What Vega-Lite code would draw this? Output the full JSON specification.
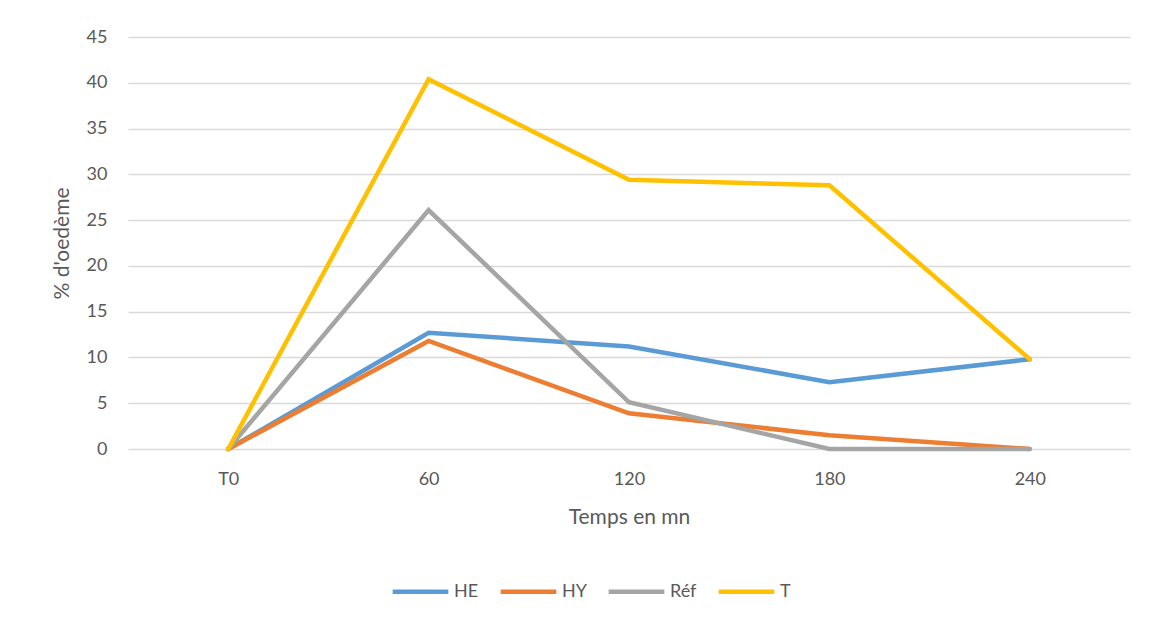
{
  "$schema": "https://vega.github.io/schema/vega-lite/v6.json",
  "width": 1002,
  "height": 412,
  "autosize": {"type": "none"},
  "padding": {"left": 128, "top": 37, "right": 23, "bottom": 171},
  "background": "white",
  "data": {
    "values": [
      {"temps": "T0", "serie": "HE", "oedeme": 0},
      {"temps": "60", "serie": "HE", "oedeme": 12.7},
      {"temps": "120", "serie": "HE", "oedeme": 11.2},
      {"temps": "180", "serie": "HE", "oedeme": 7.3},
      {"temps": "240", "serie": "HE", "oedeme": 9.8},
      {"temps": "T0", "serie": "HY", "oedeme": 0},
      {"temps": "60", "serie": "HY", "oedeme": 11.8},
      {"temps": "120", "serie": "HY", "oedeme": 3.9},
      {"temps": "180", "serie": "HY", "oedeme": 1.5},
      {"temps": "240", "serie": "HY", "oedeme": 0},
      {"temps": "T0", "serie": "Réf", "oedeme": 0},
      {"temps": "60", "serie": "Réf", "oedeme": 26.1},
      {"temps": "120", "serie": "Réf", "oedeme": 5.1},
      {"temps": "180", "serie": "Réf", "oedeme": 0},
      {"temps": "240", "serie": "Réf", "oedeme": 0},
      {"temps": "T0", "serie": "T", "oedeme": 0},
      {"temps": "60", "serie": "T", "oedeme": 40.4},
      {"temps": "120", "serie": "T", "oedeme": 29.4},
      {"temps": "180", "serie": "T", "oedeme": 28.8},
      {"temps": "240", "serie": "T", "oedeme": 9.8}
    ]
  },
  "mark": {"type": "line", "strokeWidth": 4.5, "strokeJoin": "miter", "strokeCap": "round"},
  "encoding": {
    "x": {
      "field": "temps",
      "type": "ordinal",
      "sort": ["T0", "60", "120", "180", "240"],
      "scale": {"type": "point", "padding": 0.5},
      "axis": {
        "title": "Temps en mn",
        "labelAngle": 0,
        "labelPadding": 21,
        "titlePadding": 18,
        "ticks": false,
        "domain": false,
        "grid": false
      }
    },
    "y": {
      "field": "oedeme",
      "type": "quantitative",
      "scale": {"domain": [0, 45]},
      "axis": {
        "title": "% d'oedème",
        "values": [0, 5, 10, 15, 20, 25, 30, 35, 40, 45],
        "ticks": false,
        "domain": false,
        "labelPadding": 21,
        "titlePadding": 14
      }
    },
    "color": {
      "field": "serie",
      "type": "nominal",
      "scale": {
        "domain": ["HE", "HY", "Réf", "T"],
        "range": ["#5B9BD5", "#ED7D31", "#A5A5A5", "#FFC000"]
      },
      "legend": {
        "title": null,
        "orient": "none",
        "direction": "horizontal",
        "legendX": 262,
        "legendY": 524,
        "symbolType": "stroke",
        "symbolSize": 3100,
        "symbolStrokeWidth": 4.5,
        "labelOffset": 3,
        "columnPadding": 12
      }
    }
  },
  "config": {
    "font": "Lato",
    "view": {"stroke": null},
    "axis": {
      "labelFont": "Lato",
      "labelFontSize": 18,
      "labelColor": "#595959",
      "titleFont": "Lato",
      "titleFontSize": 21,
      "titleFontWeight": "normal",
      "titleColor": "#595959",
      "gridColor": "#d9d9d9",
      "gridWidth": 1.3
    },
    "legend": {
      "labelFont": "Lato",
      "labelFontSize": 18,
      "labelColor": "#595959"
    }
  }
}
